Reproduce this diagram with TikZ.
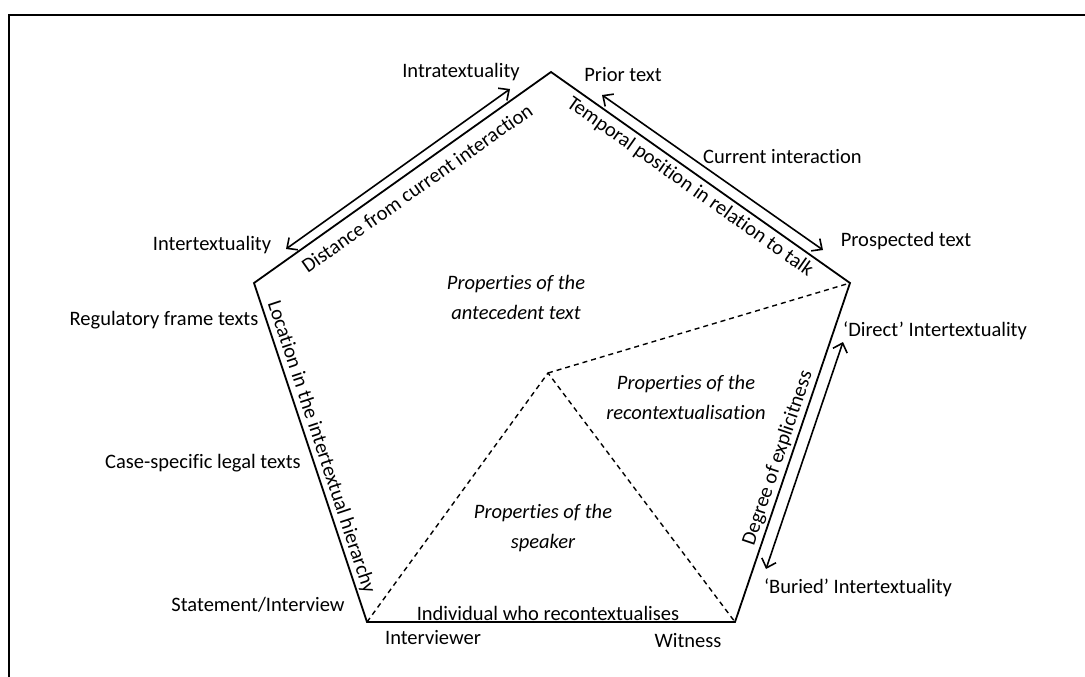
\documentclass[tikz,border=0pt]{standalone}
\usepackage{fontspec}
\setmainfont{Carlito}[Ligatures=NoCommon]
\usetikzlibrary{arrows.meta}
\tikzset{
  lbl/.style={font=\fontsize{20.5}{30}\selectfont, inner sep=0pt},
  itl/.style={font=\fontsize{20.5}{30}\selectfont\itshape, inner sep=0pt, align=center},
  edgeln/.style={line width=1.8pt, line join=miter},
  dashln/.style={line width=1.4pt, dash pattern=on 5pt off 4pt},
  dbl/.style={line width=1.6pt, {Straight Barb[length=8pt,width=15pt]}-{Straight Barb[length=8pt,width=15pt]}},
  framel/.style={line width=2.2pt}
}
\begin{document}
\begin{tikzpicture}[x=1pt,y=-1pt]
\useasboundingbox (0,0) rectangle (1085,677);
% frame
\coordinate (fb) at (9,677);
\coordinate (fc) at (9,15);
\coordinate (fr) at (1085,15);
\draw[framel] (fb) -- (fc) -- (fr);

% pentagon vertices
\coordinate (T) at (551,72);
\coordinate (R) at (850,283);
\coordinate (BR) at (735,622);
\coordinate (BL) at (367,622);
\coordinate (L) at (254,283);
\coordinate (P) at (548,373);

\draw[edgeln] (T) -- (R) -- (BR) -- (BL) -- (L) -- cycle;
\draw[dashln] (BL) -- (P) -- (BR);
\draw[dashln] (P) -- (R);

% arrows
\coordinate (a1s) at (286,249);
\coordinate (a1e) at (510,89);
\draw[dbl] (a1s) -- (a1e);
\coordinate (a2s) at (602,95);
\coordinate (a2e) at (823,250);
\draw[dbl] (a2s) -- (a2e);
\coordinate (a3s) at (843,342);
\coordinate (a3e) at (766,569);
\draw[dbl] (a3s) -- (a3e);

% edge texts
\node[lbl, rotate=35.2] (t1) at (417,188) {Distance from current interaction};
\node[lbl, rotate=-35.2] (t2) at (690,187) {Temporal position in relation to talk};
\node[lbl, rotate=71.3] (t3) at (778,458) {Degree of explicitness};
\node[lbl, rotate=-71.7] (t4) at (321,447) {Location in the intertextual hierarchy};

% outer labels
\node[lbl] (intra) at (461,72) {Intratextuality};
\node[lbl] (prior) at (623,75) {Prior text};
\node[lbl, anchor=west] (curr) at (703,157) {Current interaction};
\node[lbl] (prosp) at (906,241) {Prospected text};
\node[lbl] (inter) at (212,245) {Intertextuality};
\node[lbl] (reg) at (164,320) {Regulatory frame texts};
\node[lbl] (case) at (203,463) {Case-specific legal texts};
\node[lbl] (stat) at (258,605) {Statement/Interview};
\node[lbl] (iv) at (433,638) {Interviewer};
\node[lbl] (wit) at (688,641) {Witness};
\node[lbl] (indiv) at (548,613) {Individual who recontextualises};
\node[lbl] (bur) at (858,588) {`Buried' Intertextuality};
\node[lbl] (dir) at (935,331) {`Direct' Intertextuality};

% inner labels
\node[itl] (ant) at (516,297) {Properties of the\\antecedent text};
\node[itl] (rec) at (686,397) {Properties of the\\recontextualisation};
\node[itl] (spk) at (543,528) {Properties of the\\speaker};
\end{tikzpicture}
\end{document}
